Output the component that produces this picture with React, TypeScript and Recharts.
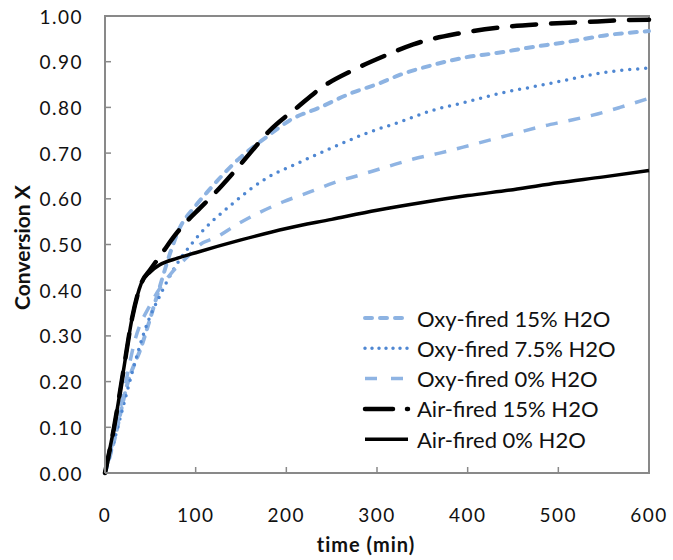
import React from 'react';
import { LineChart, Line, XAxis, YAxis, ReferenceArea } from 'recharts';

// time (min) ticks and conversion ticks
const timeTicks = [0, 100, 200, 300, 400, 500, 600];
const convTicks = [0, 0.1, 0.2, 0.3, 0.4, 0.5, 0.6, 0.7, 0.8, 0.9, 1.0];

// Oxy-fired 15% H2O
const oxy15Time = [0, 10, 25, 40, 57, 73, 81, 100, 112, 149, 178, 204, 237, 270, 303, 325, 362, 399, 432, 465, 509, 553, 600];
const oxy15Conv = [0, 0.07, 0.197, 0.276, 0.385, 0.488, 0.53, 0.585, 0.613, 0.69, 0.735, 0.772, 0.8, 0.83, 0.853, 0.871, 0.893, 0.91, 0.919, 0.93, 0.943, 0.958, 0.967];

// Oxy-fired 7.5% H2O
const oxy75Time = [0, 10, 20, 30, 44, 62, 77, 99, 141, 178, 215, 252, 289, 325, 362, 399, 436, 472, 509, 546, 600];
const oxy75Conv = [0, 0.07, 0.145, 0.22, 0.313, 0.394, 0.45, 0.51, 0.59, 0.645, 0.68, 0.713, 0.744, 0.768, 0.794, 0.812, 0.831, 0.845, 0.86, 0.875, 0.886];

// Oxy-fired 0% H2O
const oxy0Time = [0, 10, 20, 33, 51, 73, 91, 105, 124, 145, 196, 226, 252, 281, 311, 340, 369, 395, 425, 454, 483, 509, 538, 568, 600];
const oxy0Conv = [0, 0.08, 0.17, 0.29, 0.372, 0.437, 0.473, 0.5, 0.517, 0.543, 0.593, 0.615, 0.635, 0.652, 0.67, 0.687, 0.7, 0.713, 0.729, 0.744, 0.759, 0.77, 0.783, 0.8, 0.82];

// Air-fired 15% H2O
const air15Time = [0, 10, 20, 30, 40, 50, 64, 77, 90, 105, 120, 141, 160, 182, 212, 240, 274, 311, 340, 388, 436, 480, 531, 576, 600];
const air15Conv = [0, 0.1, 0.22, 0.34, 0.415, 0.445, 0.484, 0.52, 0.55, 0.58, 0.61, 0.656, 0.7, 0.75, 0.8, 0.845, 0.882, 0.915, 0.938, 0.961, 0.975, 0.982, 0.987, 0.991, 0.992];

// Air-fired 0% H2O
const air0Time = [0, 5, 10, 20, 30, 40, 50, 60, 80, 100, 150, 200, 250, 300, 350, 400, 450, 500, 550, 600];
const air0Conv = [0, 0.05, 0.1, 0.22, 0.34, 0.415, 0.44, 0.455, 0.47, 0.482, 0.51, 0.535, 0.555, 0.575, 0.592, 0.607, 0.62, 0.635, 0.648, 0.662];

const zip = (t: number[], x: number[]) => t.map((v, i) => ({ t: v, x: x[i] }));

const SERIES = [
    { name: 'Oxy-fired 15% H2O', data: zip(oxy15Time, oxy15Conv), color: '#8db3e2', width: 4, dash: '7 8', cap: 'round', legendDash: '7 8' },
    { name: 'Oxy-fired 7.5% H2O', data: zip(oxy75Time, oxy75Conv), color: '#4f87d2', width: 3.5, dash: '0 8', cap: 'round', legendDash: '0 7' },
    { name: 'Oxy-fired 0% H2O', data: zip(oxy0Time, oxy0Conv), color: '#8fb4e3', width: 3.5, dash: '12 11', cap: 'butt', legendDash: '12 14' },
    { name: 'Air-fired 15% H2O', data: zip(air15Time, air15Conv), color: '#000000', width: 4.5, dash: '24 15', cap: 'round', legendDash: '28 14 2 50' },
    { name: 'Air-fired 0% H2O', data: zip(air0Time, air0Conv), color: '#000000', width: 3.5, dash: undefined, cap: 'butt', legendDash: undefined },
];

const AXIS = '#898989';
const FONT = 'Lato, "Open Sans", sans-serif';

const XTick = (props: any) => {
    const { x, y, payload } = props;
    return (
        <g>
            <line x1={x} y1={y} x2={x} y2={y - 6} stroke={AXIS} strokeWidth={1.5} />
            <text x={x} y={y + 41} textAnchor="middle" dominantBaseline="central"
                fontFamily={FONT} fontSize={19} letterSpacing={1.5} fill="#111">
                {payload.value}
            </text>
        </g>
    );
};

const YTick = (props: any) => {
    const { x, y, payload } = props;
    return (
        <g>
            <line x1={x} y1={y} x2={x + 6} y2={y} stroke={AXIS} strokeWidth={1.5} />
            <text x={x - 22} y={y} textAnchor="end" dominantBaseline="central"
                fontFamily={FONT} fontSize={19} letterSpacing={1.5} fill="#111">
                {Number(payload.value).toFixed(2)}
            </text>
        </g>
    );
};

function ChartLegend() {
    return (
        <svg width={300} height={160} style={{ position: 'absolute', left: 357, top: 303 }}>
            {SERIES.map((s, i) => {
                const cy = 15 + i * 30.3;
                return (
                    <g key={s.name}>
                        <line x1={8} y1={cy} x2={51} y2={cy} stroke={s.color} strokeWidth={s.width}
                            strokeDasharray={s.legendDash} strokeLinecap={s.cap as any} />
                        <text x={60} y={cy} dominantBaseline="central" fontFamily={FONT} fontSize={22} fill="#111">
                            {s.name}
                        </text>
                    </g>
                );
            })}
        </svg>
    );
}

export default function App() {
    return (
        <div style={{ position: 'absolute', left: 0, top: 0, width: 673, height: 560, background: '#fff', fontFamily: FONT }}>
            <LineChart width={673} height={560} margin={{ top: 16, right: 24, left: 0, bottom: 0 }}>
                <XAxis
                    dataKey="t"
                    type="number"
                    domain={[0, 600]}
                    ticks={timeTicks}
                    height={87}
                    tickSize={0}
                    tickMargin={0}
                    tick={<XTick />}
                    stroke={AXIS}
                    strokeWidth={2}
                    label={{ value: 'time (min)', position: 'center', dx: -11, dy: 28, fontFamily: FONT, fontSize: 20, fontWeight: 'bold', fill: '#111', letterSpacing: 1 }}
                />
                <YAxis
                    type="number"
                    domain={[0, 1]}
                    ticks={convTicks}
                    width={105}
                    tickSize={0}
                    tickMargin={0}
                    tick={<YTick />}
                    stroke={AXIS}
                    strokeWidth={2}
                    label={{ value: 'Conversion X', angle: -90, position: 'center', dx: -30, dy: 3, fontFamily: FONT, fontSize: 21, fontWeight: 'bold', fill: '#111' }}
                />
                <ReferenceArea x1={0} x2={600} y1={0} y2={1} fill="none" stroke={AXIS} strokeWidth={2} />
                {SERIES.map((s) => (
                    <Line
                        key={s.name}
                        data={s.data}
                        dataKey="x"
                        name={s.name}
                        type="monotone"
                        stroke={s.color}
                        strokeWidth={s.width}
                        strokeDasharray={s.dash}
                        strokeLinecap={s.cap as any}
                        dot={false}
                        activeDot={false}
                        isAnimationActive={false}
                    />
                ))}
            </LineChart>
            <ChartLegend />
        </div>
    );
}
